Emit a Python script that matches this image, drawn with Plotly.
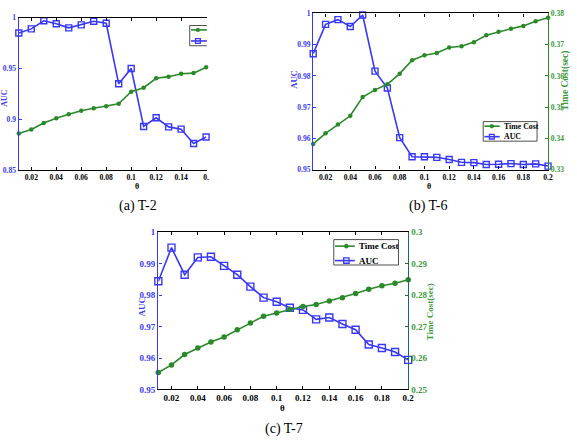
import plotly.graph_objects as go

W, H = 577, 444

# ---------------- data ----------------
theta = [0.01, 0.02, 0.03, 0.04, 0.05, 0.06, 0.07, 0.08, 0.09, 0.10,
         0.11, 0.12, 0.13, 0.14, 0.15, 0.16, 0.17, 0.18, 0.19, 0.20]
theta_a = theta[:16]  # panel (a) is cropped at ~0.16

auc_a = [0.985, 0.989, 0.997, 0.994, 0.990, 0.993, 0.9965, 0.9945,
         0.935, 0.950, 0.893, 0.9016, 0.8926, 0.8904, 0.8763, 0.8827]
time_a = [0.3362, 0.3400, 0.3465, 0.3512, 0.3551, 0.3584, 0.3609, 0.3628,
          0.3654, 0.3772, 0.3811, 0.3904, 0.3920, 0.3949, 0.3955, 0.4012]

auc_b = [0.9871, 0.9965, 0.9980, 0.9958, 0.9995, 0.9815, 0.9761, 0.9602,
         0.9541, 0.9541, 0.9539, 0.9532, 0.9523, 0.9522, 0.9516, 0.9517,
         0.9519, 0.9516, 0.9518, 0.9511]
time_b = [0.3382, 0.3416, 0.3444, 0.3472, 0.3532, 0.3555, 0.3573, 0.3607,
          0.3650, 0.3666, 0.3673, 0.3691, 0.3695, 0.3708, 0.3730, 0.3741,
          0.3751, 0.3760, 0.3775, 0.3786]

auc_c = [0.9844, 0.9951, 0.9865, 0.9920, 0.9922, 0.9893, 0.9865, 0.9827,
         0.9792, 0.9779, 0.9760, 0.9753, 0.9723, 0.9729, 0.9708, 0.9690,
         0.9643, 0.9632, 0.9619, 0.9594]
time_c = [0.2554, 0.2578, 0.2611, 0.2632, 0.2651, 0.2667, 0.2690, 0.2711,
          0.2733, 0.2743, 0.2755, 0.2764, 0.2770, 0.2781, 0.2792, 0.2805,
          0.2819, 0.2830, 0.2838, 0.2849]

x_tickvals = [0.02, 0.04, 0.06, 0.08, 0.10, 0.12, 0.14, 0.16, 0.18, 0.20]
x_ticktext = ["0.02", "0.04", "0.06", "0.08", "0.1", "0.12", "0.14", "0.16", "0.18", "0.2"]
x_ticktext_a = ["0.02", "0.04", "0.06", "0.08", "0.1", "0.12", "0.14", "0."]

auc_ticks_a = [0.85, 0.90, 0.95, 1.0]
auc_text_a = ["0.85", "0.9", "0.95", "1"]
auc_ticks = [0.95, 0.96, 0.97, 0.98, 0.99, 1.0]
auc_text = ["0.95", "0.96", "0.97", "0.98", "0.99", "1"]
time_ticks_b = [0.33, 0.34, 0.35, 0.36, 0.37, 0.38]
time_text_b = ["0.33", "0.34", "0.35", "0.36", "0.37", "0.38"]
time_ticks_c = [0.25, 0.26, 0.27, 0.28, 0.29, 0.30]
time_text_c = ["0.25", "0.26", "0.27", "0.28", "0.29", "0.3"]

series_names = ["Time Cost", "AUC"]
captions = ["(a) T-2", "(b) T-6", "(c) T-7"]

# ---------------- styles ----------------
BLUE = "#3838f8"
BLUE_TXT = "#3c3cf0"
GREEN = "#2a8a2a"
GREEN_TXT = "#3a9a3a"
TEAL = "#1a6a60"
FONT = "Liberation Serif"


def PX(x):
    return x / W


def PY(y):
    return 1 - y / H


fig = go.Figure()


def add_pair(xs, time_vals, auc_vals, xa, ya_auc, ya_time, msize):
    fig.add_trace(go.Scatter(
        x=xs, y=time_vals, name=series_names[0], mode="lines+markers",
        line=dict(color=GREEN, width=1.6),
        marker=dict(symbol="circle", size=msize - 1.5, color=GREEN),
        xaxis=xa, yaxis=ya_time, cliponaxis=False, showlegend=False))
    fig.add_trace(go.Scatter(
        x=xs, y=auc_vals, name=series_names[1], mode="lines+markers",
        line=dict(color=BLUE, width=1.6),
        marker=dict(symbol="square-open", size=msize, color=BLUE,
                    line=dict(width=1.4, color=BLUE)),
        xaxis=xa, yaxis=ya_auc, cliponaxis=False, showlegend=False))


add_pair(theta_a, time_a, auc_a, "x", "y", "y2", 6)
add_pair(theta, time_b, auc_b, "x2", "y3", "y4", 6)
add_pair(theta, time_c, auc_c, "x3", "y5", "y6", 7)


def xaxis_cfg(domain, anchor, rng, ticktext, tickvals, fsize):
    return dict(domain=domain, anchor=anchor, range=rng, tickvals=tickvals,
                ticktext=ticktext, showline=True, linecolor="black", linewidth=1.2,
                mirror="ticks", ticks="inside", ticklen=3, tickcolor="black",
                showgrid=False, zeroline=False,
                tickfont=dict(family=FONT, size=fsize, color="black", weight="bold"))


def yaxis_cfg(domain, anchor, rng, tickvals, ticktext, color, txtcolor, fsize,
              side="left", overlaying=None, visible=True):
    d = dict(domain=domain, anchor=anchor, range=rng, tickvals=tickvals,
             ticktext=ticktext, showline=True, linecolor=color, linewidth=1.4,
             ticks="inside", ticklen=3, tickcolor=color, side=side,
             showgrid=False, zeroline=False, visible=visible,
             tickfont=dict(family=FONT, size=fsize, color=txtcolor, weight="bold"))
    if overlaying:
        d["overlaying"] = overlaying
    return d


# panel (a)
dom_xa = [PX(19), PX(209)]
dom_ya = [PY(169), PY(13)]
# panel (b)
dom_xb = [PX(316.5), PX(553.8)]
dom_yb = [PY(168.3), PY(8.6)]
# panel (c)
dom_xc = [PX(160), PX(412.5)]
dom_yc = [PY(393.3), PY(232.5)]

fig.update_layout(
    width=W, height=H, margin=dict(l=0, r=0, t=0, b=0),
    paper_bgcolor="white", plot_bgcolor="white", showlegend=False,
    xaxis=xaxis_cfg(dom_xa, "y", [0.01, 0.1606], x_ticktext_a, x_tickvals[:8], 7.6),
    yaxis=yaxis_cfg(dom_ya, "x", [0.85, 1.0], auc_ticks_a, auc_text_a, BLUE, BLUE_TXT, 7.6),
    yaxis2=yaxis_cfg(dom_ya, "x", [0.30, 0.45], [], [], GREEN, GREEN_TXT, 7.6,
                     side="right", overlaying="y", visible=False),
    xaxis2=xaxis_cfg(dom_xb, "y3", [0.01, 0.2], x_ticktext, x_tickvals, 7.6),
    yaxis3=yaxis_cfg(dom_yb, "x2", [0.95, 1.0], auc_ticks, auc_text, BLUE, BLUE_TXT, 7.6),
    yaxis4=yaxis_cfg(dom_yb, "x2", [0.33, 0.38], time_ticks_b, time_text_b, GREEN, GREEN_TXT, 7.6,
                     side="right", overlaying="y3"),
    xaxis3=xaxis_cfg(dom_xc, "y5", [0.01, 0.2], x_ticktext, x_tickvals, 9),
    yaxis5=yaxis_cfg(dom_yc, "x3", [0.95, 1.0], auc_ticks, auc_text, BLUE, BLUE_TXT, 9),
    yaxis6=yaxis_cfg(dom_yc, "x3", [0.25, 0.30], time_ticks_c, time_text_c, TEAL, GREEN_TXT, 9,
                     side="right", overlaying="y5"),
)

annotations = []


def ann(text, x, y, size, color="black", angle=0, bold=True, family=FONT):
    annotations.append(dict(
        text=text, x=PX(x), y=PY(y), xref="paper", yref="paper",
        xanchor="center", yanchor="middle", showarrow=False, textangle=angle,
        font=dict(family=family, size=size, color=color,
                  weight="bold" if bold else "normal")))


# axis titles
ann("AUC", 5, 95, 8, BLUE_TXT, -90)
ann("θ", 138, 186, 8)
ann("AUC", 297.5, 76, 8.5, BLUE_TXT, -90)
ann("Time Cost(sec)", 571.5, 78, 9.5, GREEN_TXT, -90)
ann("θ", 434, 186, 8)
ann("AUC", 144, 309, 9, BLUE_TXT, -90)
ann("Time Cost(sec)", 434, 314, 9, GREEN_TXT, -90)
ann("θ", 285.5, 412, 9)

# captions
ann(captions[0], 139, 206, 14, bold=False)
ann(captions[1], 433, 206, 14, bold=False)
ann(captions[2], 287, 434, 14, bold=False)

shapes = []


def line(x0, y0, x1, y1, color, width=1.0):
    shapes.append(dict(type="line", xref="paper", yref="paper",
                       x0=PX(x0), y0=PY(y0), x1=PX(x1), y1=PY(y1),
                       line=dict(color=color, width=width)))


def circ(cx, cy, r, color):
    shapes.append(dict(type="circle", xref="paper", yref="paper",
                       x0=PX(cx - r), x1=PX(cx + r), y0=PY(cy + r), y1=PY(cy - r),
                       fillcolor=color, line=dict(color=color, width=0.5)))


def sq(cx, cy, r, color):
    shapes.append(dict(type="rect", xref="paper", yref="paper",
                       x0=PX(cx - r), x1=PX(cx + r), y0=PY(cy + r), y1=PY(cy - r),
                       fillcolor="rgba(0,0,0,0)", line=dict(color=color, width=1.3)))


BOX = "#505050"

# legend (a) - cropped at the right edge
line(191.7, 21, 209, 21, BOX)
line(191.7, 21, 191.7, 41.7, BOX)
line(191.7, 41.7, 209, 41.7, BOX)
line(193, 25.5, 209, 25.5, GREEN, 1.6)
circ(200, 25.5, 1.9, GREEN)
line(193, 36.8, 209, 36.8, BLUE, 1.6)
sq(200, 36.8, 2.4, BLUE)

# legend (b)
shapes.append(dict(type="rect", xref="paper", yref="paper",
                   x0=PX(488.3), x1=PX(542.7), y0=PY(139.3), y1=PY(119.3),
                   fillcolor="white", line=dict(color=BOX, width=1)))
line(489.5, 124, 505, 124, GREEN, 1.6)
circ(497, 124, 1.9, GREEN)
line(489.5, 134.7, 505, 134.7, BLUE, 1.6)
sq(497, 134.7, 2.4, BLUE)
annotations.append(dict(text=series_names[0], x=PX(507), y=PY(124), xref="paper", yref="paper",
                        xanchor="left", yanchor="middle", showarrow=False,
                        font=dict(family=FONT, size=7.8, color="black", weight="bold")))
annotations.append(dict(text=series_names[1], x=PX(507), y=PY(134.7), xref="paper", yref="paper",
                        xanchor="left", yanchor="middle", showarrow=False,
                        font=dict(family=FONT, size=7.8, color="black", weight="bold")))

# legend (c)
shapes.append(dict(type="rect", xref="paper", yref="paper",
                   x0=PX(337.3), x1=PX(402.7), y0=PY(266), y1=PY(240),
                   fillcolor="white", line=dict(color=BOX, width=1)))
line(338.5, 246.7, 358.5, 246.7, GREEN, 1.6)
circ(350, 246.7, 2.1, GREEN)
line(338.5, 261.5, 358.5, 261.5, BLUE, 1.6)
sq(350, 261.5, 2.7, BLUE)
annotations.append(dict(text=series_names[0], x=PX(361), y=PY(246.7), xref="paper", yref="paper",
                        xanchor="left", yanchor="middle", showarrow=False,
                        font=dict(family=FONT, size=9, color="black", weight="bold")))
annotations.append(dict(text=series_names[1], x=PX(361), y=PY(261.5), xref="paper", yref="paper",
                        xanchor="left", yanchor="middle", showarrow=False,
                        font=dict(family=FONT, size=9, color="black", weight="bold")))

fig.update_layout(annotations=annotations, shapes=shapes)

fig.write_html("out.html")
